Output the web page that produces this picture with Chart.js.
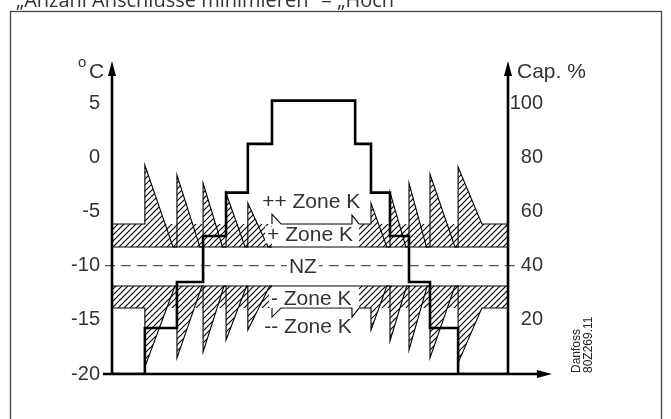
<!DOCTYPE html>
<html>
<head>
<meta charset="utf-8">
<script src="https://cdn.jsdelivr.net/npm/chart.js@4.4.1/dist/chart.umd.min.js"></script>
<style>
    html, body { margin: 0; padding: 0; background: #fff; }
    #wrap { width: 671px; height: 419px; }
</style>
</head>
<body>
<div id="wrap"><canvas id="chart" width="671" height="419"></canvas></div>
<script>
// time runs 0..100 (no unit on the drawing), temperature in °C, capacity in %
const tempTicks = [-20, -15, -10, -5, 0, 5];
const capTicks = [20, 40, 60, 80, 100];

// compressor capacity steps
const capTimes = [0, 8.3, 16.4, 23.0, 28.8, 34.3, 40.4, 61.4, 65.4, 70.2, 75.0, 80.3, 87.4, 100];
const capValues = [0, 17, 34, 51, 67, 85, 101, 85, 67, 51, 34, 17, 0, 0];

// neutral zone line
const nzLine = [[-1.8, -10], [101.8, -10]];

// "+ Zone K" band (top / bottom edge)
const upperEdge = [[0, -8.27], [100, -8.27]];
const upperBandFill = [[0, -8.27], [40.4, -8.27], [40.5, null], [62.3, null], [62.4, -8.27], [100, -8.27]];
// "- Zone K" band
const lowerEdge = [[0, -11.87], [100, -11.87]];
const lowerBandFill = [[0, -11.87], [40.4, -11.87], [40.5, null], [62.3, null], [62.4, -11.87], [100, -11.87]];

// temperature peaks into "++ Zone K"
const upperSawLeft = [[0, -6.15], [8.3, -6.15], [8.3, -0.7], [15.4, -8.27], [16.4, -8.27], [16.4, -1.62],
    [22.2, -8.27], [23.0, -8.27], [23.0, -2.36], [27.9, -8.27], [28.8, -8.27], [28.8, -3.29],
    [33.6, -8.27], [34.3, -8.27], [34.3, -4.21], [39.4, -8.27], [40.4, -8.27]];
const upperSawRight = [[62.4, -6.15], [65.4, -6.15], [65.4, -4.21], [69.4, -8.27], [70.2, -8.27], [70.2, -3.2],
    [74.2, -8.27], [75.0, -8.27], [75.0, -2.36], [79.4, -8.27], [80.3, -8.27], [80.3, -1.53],
    [86.6, -8.27], [87.4, -8.27], [87.4, -0.89], [93.4, -6.15], [100, -6.15]];
const upperBox = [[40.4, -6.15], [40.4, -5.23], [42.7, -6.15], [60.6, -6.15], [60.6, -5.32], [62.4, -6.15]];

// temperature dips into "-- Zone K"
const lowerSawLeft = [[0, -13.9], [8.3, -13.9], [8.3, -19.35], [15.9, -11.87], [16.4, -11.87], [16.4, -18.52],
    [22.7, -11.87], [23.0, -11.87], [23.0, -17.97], [28.3, -11.87], [28.8, -11.87], [28.8, -16.86],
    [34.0, -11.87], [34.3, -11.87], [34.3, -15.94], [39.8, -11.87], [40.4, -11.87]];
const lowerSawRight = [[62.4, -13.9], [65.4, -13.9], [65.4, -15.94], [69.4, -11.87], [70.2, -11.87], [70.2, -16.95],
    [74.4, -11.87], [75.0, -11.87], [75.0, -17.78], [79.6, -11.87], [80.3, -11.87], [80.3, -18.52],
    [86.6, -11.87], [87.4, -11.87], [87.4, -18.98], [93.4, -13.9], [100, -13.9]];
const lowerBox = [[40.4, -13.9], [40.4, -14.74], [42.7, -13.9], [60.6, -13.9], [60.6, -14.74], [62.4, -13.9]];

const zoneLabels = ['++ Zone K', '+ Zone K', 'NZ', '- Zone K', '-- Zone K'];
const zoneLabelPos = [[50.3, -4.0], [50.0, -7.1], [48.2, -10.0], [50.3, -13.0], [49.5, -15.6]];
const zoneLabelBg = [false, true, true, true, false];

const canvas = document.getElementById('chart');
const mainCtx = canvas.getContext('2d');

// diagonal hatch used for the zone areas
function makeHatch() {
    const s = 6;
    const c = document.createElement('canvas');
    c.width = s;
    c.height = s;
    const g = c.getContext('2d');
    g.strokeStyle = '#000';
    g.lineWidth = 1.15;
    g.beginPath();
    g.moveTo(0, s); g.lineTo(s, 0);
    g.moveTo(-1, 1); g.lineTo(1, -1);
    g.moveTo(s - 1, s + 1); g.lineTo(s + 1, s - 1);
    g.stroke();
    return mainCtx.createPattern(c, 'repeat');
}
const hatch = makeHatch();

function pts(list) {
    return list.map(p => ({ x: p[0], y: p[1] }));
}

function outline(data, extra) {
    return Object.assign({
        data: pts(data),
        borderColor: '#000',
        borderWidth: 1.1,
        fill: false,
        order: 2
    }, extra || {});
}

const FONT = '"Liberation Sans", Arial, sans-serif';

const decorations = {
    id: 'decorations',
    beforeDraw(chart) {
        const ctx = chart.ctx;
        ctx.save();
        ctx.fillStyle = '#fff';
        ctx.fillRect(0, 0, chart.width, chart.height);
        // frame
        ctx.strokeStyle = '#444';
        ctx.lineWidth = 1.3;
        ctx.strokeRect(10.5, 11.5, 651, 420);
        // heading, cut off at the top like the source
        ctx.fillStyle = '#333';
        ctx.font = '20px "Open Sans", sans-serif';
        ctx.textAlign = 'left';
        ctx.textBaseline = 'alphabetic';
        ctx.fillText('\u201EAnzahl Anschl\u00FCsse minimieren\u201C = \u201EHoch\u201C', 16, 7);
        ctx.restore();
    },
    afterDatasetsDraw(chart) {
        const { ctx, chartArea: area, scales } = chart;
        const xs = scales.x, ys = scales.y;
        const base = ys.getPixelForValue(-20);
        const top = area.top + 1;
        ctx.save();

        // axes with arrow heads
        ctx.strokeStyle = '#000';
        ctx.fillStyle = '#000';
        ctx.lineWidth = 2.6;
        ctx.beginPath();
        ctx.moveTo(area.left, base); ctx.lineTo(area.left, top + 12);
        ctx.moveTo(area.right, base); ctx.lineTo(area.right, top + 12);
        ctx.moveTo(area.left - 9, base); ctx.lineTo(area.right + 32, base);
        ctx.stroke();
        function arrowUp(x) {
            ctx.beginPath();
            ctx.moveTo(x, top);
            ctx.lineTo(x - 4, top + 15);
            ctx.lineTo(x + 4, top + 15);
            ctx.closePath();
            ctx.fill();
        }
        arrowUp(area.left);
        arrowUp(area.right);
        const tip = area.right + 44;
        ctx.beginPath();
        ctx.moveTo(tip, base);
        ctx.lineTo(tip - 15, base - 4);
        ctx.lineTo(tip - 15, base + 4);
        ctx.closePath();
        ctx.fill();

        // axis titles
        ctx.fillStyle = '#333';
        ctx.textBaseline = 'alphabetic';
        ctx.textAlign = 'left';
        ctx.font = '15px ' + FONT;
        ctx.fillText('o', 78, 67);
        ctx.font = '21px ' + FONT;
        ctx.fillText('C', 89, 78);
        ctx.fillText('Cap. %', area.right + 9, 78);

        // zone labels
        ctx.font = '21px ' + FONT;
        ctx.textAlign = 'center';
        ctx.textBaseline = 'middle';
        zoneLabels.forEach((txt, i) => {
            const px = xs.getPixelForValue(zoneLabelPos[i][0]);
            const py = ys.getPixelForValue(zoneLabelPos[i][1]);
            if (zoneLabelBg[i]) {
                const w = ctx.measureText(txt).width;
                ctx.fillStyle = '#fff';
                ctx.fillRect(px - w / 2 - 2, py - 8, w + 4, 17);
            }
            ctx.fillStyle = '#333';
            ctx.fillText(txt, px, py + 1);
        });

        // drawing number, rotated
        ctx.translate(area.right + 72, base - 1);
        ctx.rotate(-Math.PI / 2);
        ctx.font = '12px ' + FONT;
        ctx.textAlign = 'left';
        ctx.textBaseline = 'alphabetic';
        ctx.fillStyle = '#222';
        ctx.fillText('Danfoss', 0, 0);
        ctx.fillText('80Z269.11', 0, 12);
        ctx.restore();
    }
};

const chart = new Chart(canvas, {
    type: 'line',
    data: {
        datasets: [
            {
                label: 'Capacity',
                yAxisID: 'yCap',
                data: capTimes.map((t, i) => ({ x: t, y: capValues[i] })),
                stepped: true,
                borderColor: '#000',
                borderWidth: 2.6,
                fill: false,
                order: 0
            },
            outline(upperBox, { order: 1 }),
            outline(lowerBox, { order: 1 }),
            outline(nzLine, { borderColor: '#555', borderWidth: 1.2, borderDash: [10, 6], clip: false, order: 3 }),
            outline(upperSawLeft, { fill: { target: { value: -6.15 }, above: hatch, below: 'rgba(0,0,0,0)' } }),
            outline(upperSawRight, { fill: { target: { value: -6.15 }, above: hatch, below: 'rgba(0,0,0,0)' } }),
            outline(lowerSawLeft, { fill: { target: { value: -13.9 }, below: hatch, above: 'rgba(0,0,0,0)' } }),
            outline(lowerSawRight, { fill: { target: { value: -13.9 }, below: hatch, above: 'rgba(0,0,0,0)' } }),
            outline(upperEdge, { order: 4 }),
            outline(lowerEdge, { order: 4 }),
            outline(upperBandFill, { borderWidth: 0, borderColor: 'rgba(0,0,0,0)', backgroundColor: hatch, fill: { value: -6.15 }, order: 5 }),
            outline(lowerBandFill, { borderWidth: 0, borderColor: 'rgba(0,0,0,0)', backgroundColor: hatch, fill: { value: -13.9 }, order: 5 })
        ]
    },
    options: {
        responsive: false,
        animation: false,
        devicePixelRatio: 1,
        layout: { padding: { top: 60, bottom: 45, left: 0, right: 128 } },
        plugins: {
            legend: { display: false },
            tooltip: { enabled: false }
        },
        elements: {
            point: { radius: 0 },
            line: { tension: 0 }
        },
        scales: {
            x: { type: 'linear', min: 0, max: 100, display: false },
            y: {
                position: 'left',
                min: -20,
                max: 9,
                grid: { display: false, drawTicks: false },
                border: { display: false },
                afterBuildTicks: s => { s.ticks = tempTicks.map(v => ({ value: v })); },
                afterFit: s => { s.width = 112; },
                ticks: { font: { family: 'Liberation Sans', size: 20 }, color: '#333', padding: 12 }
            },
            yCap: {
                position: 'right',
                min: 0,
                max: 116,
                grid: { display: false, drawTicks: false },
                border: { display: false },
                afterBuildTicks: s => { s.ticks = capTicks.map(v => ({ value: v })); },
                afterFit: s => { s.width = 35; },
                ticks: { font: { family: 'Liberation Sans', size: 20 }, color: '#333', padding: 0, crossAlign: 'far' }
            }
        }
    },
    plugins: [decorations]
});
</script>
</body>
</html>
